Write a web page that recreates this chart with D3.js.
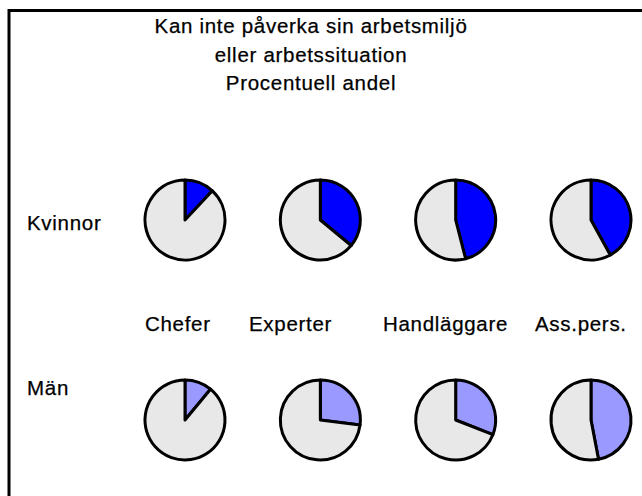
<!DOCTYPE html>
<html>
<head>
<meta charset="utf-8">
<script src="https://cdn.jsdelivr.net/npm/d3@7"></script>
<style>
  html, body { margin: 0; padding: 0; background: #fff; }
  svg { display: block; }
  text { font-family: "Liberation Sans", Arial, sans-serif; fill: #000; stroke: #000; stroke-width: 0.25px; }
</style>
</head>
<body>
<script>
// ---- Data ----
const titleLines = ["Kan inte påverka sin arbetsmiljö", "eller arbetssituation", "Procentuell andel"];
const categories = ["Chefer", "Experter", "Handläggare", "Ass.pers."];
const groups = ["Kvinnor", "Män"];
const kvinnorValues = [12, 36, 46, 42];   // percent
const manValues = [11, 27, 31, 47];       // percent

// ---- Layout ----
const W = 642, H = 496;
const svg = d3.select("body").append("svg").attr("width", W).attr("height", H);

// frame (top and left edges visible)
svg.append("path")
  .attr("d", `M9,${H} L9,10.5 L${W},10.5`)
  .attr("fill", "none").attr("stroke", "#000").attr("stroke-width", 3);

const fs = 20.5;
const ls = "0.7px";
svg.selectAll("text.title").data(titleLines).join("text")
  .attr("class", "title")
  .attr("x", 311)
  .attr("y", (d, i) => 33 + i * 28.5)
  .attr("text-anchor", "middle")
  .style("font-size", fs + "px")
  .style("letter-spacing", ls)
  .text(d => d);

const x = d3.scalePoint().domain(categories).range([185, 591]);
const y = d3.scalePoint().domain(groups).range([220, 420]);
const r = 40;

// row labels
const rowLabelY = { "Kvinnor": 230, "Män": 395 };
svg.selectAll("text.row").data(groups).join("text")
  .attr("class", "row")
  .attr("x", 27).attr("y", d => rowLabelY[d])
  .style("font-size", fs + "px").style("letter-spacing", ls)
  .text(d => d);

// category labels
const catLabelX = [145, 249, 383, 535];
svg.selectAll("text.cat").data(categories).join("text")
  .attr("class", "cat")
  .attr("x", (d, i) => catLabelX[i]).attr("y", 331)
  .style("font-size", fs + "px").style("letter-spacing", ls)
  .text(d => d);

const pie = d3.pie().sort(null).value(d => d.v);
const arc = d3.arc().innerRadius(0).outerRadius(r);

const rows = [
  { g: "Kvinnor", vals: kvinnorValues, color: "#0000FF" },
  { g: "Män", vals: manValues, color: "#9999FF" }
];

rows.forEach(row => {
  row.vals.forEach((v, i) => {
    const data = [{ v: v, c: row.color }, { v: 100 - v, c: "#E8E8E8" }];
    const gp = svg.append("g")
      .attr("transform", `translate(${x(categories[i])},${y(row.g)})`);
    gp.selectAll("path").data(pie(data)).join("path")
      .attr("d", arc)
      .attr("fill", d => d.data.c)
      .attr("stroke", "#000")
      .attr("stroke-width", 3)
      .attr("stroke-linejoin", "round");
  });
});
</script>
</body>
</html>
